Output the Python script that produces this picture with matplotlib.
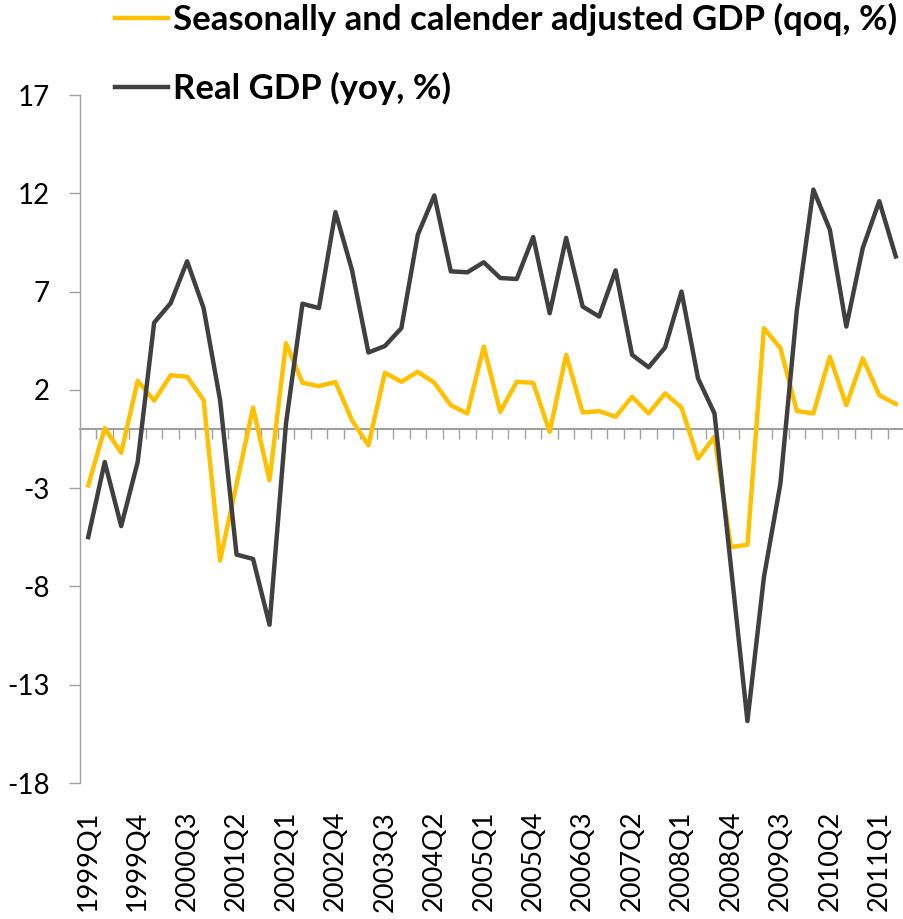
import numpy as np
import matplotlib
matplotlib.use("Agg")
import matplotlib.pyplot as plt

quarters = [f"{y}Q{q}" for y in range(1999, 2012) for q in range(1, 5)][:50]

gdp_qoq = [-2.86, 0.05, -1.2, 2.46, 1.45, 2.74, 2.67, 1.48, -6.68, -2.8,
           1.1, -2.6, 4.37, 2.36, 2.19, 2.4, 0.46, -0.82, 2.87, 2.41,
           2.92, 2.36, 1.22, 0.8, 4.2, 0.88, 2.41, 2.36, -0.14, 3.78,
           0.85, 0.92, 0.63, 1.65, 0.8, 1.82, 1.1, -1.5, -0.39, -6.0,
           -5.88, 5.14, 4.12, 0.92, 0.8, 3.69, 1.22, 3.6, 1.73, 1.28]

gdp_yoy = [-5.49, -1.67, -4.93, -1.67, 5.42, 6.41, 8.54, 6.16, 1.48, -6.38,
           -6.6, -9.95, 0.3, 6.38, 6.16, 11.04, 8.11, 3.9, 4.23, 5.14,
           9.9, 11.89, 8.03, 7.98, 8.49, 7.69, 7.64, 9.78, 5.9, 9.73,
           6.24, 5.73, 8.08, 3.78, 3.15, 4.15, 7.0, 2.59, 0.8, -7.0,
           -14.85, -7.53, -2.77, 6.07, 12.19, 10.15, 5.22, 9.22, 11.6, 8.79]

yticks = [17, 12, 7, 2, -3, -8, -13, -18]

font = "Lato"
grey = "#A0A0A0"
x = np.arange(len(quarters))

fig = plt.figure(figsize=(9.04, 9.19), dpi=100)
ax = fig.add_axes([80 / 904, 1 - 783 / 919, 824 / 904, (783 - 95) / 919])

ax.plot(x, gdp_qoq, color="#FFC000", lw=3.2, label="Seasonally and calender adjusted GDP (qoq, %)")
ax.plot(x, gdp_yoy, color="#404040", lw=3.2, label="Real GDP (yoy, %)")

ax.set_xlim(-0.5, len(quarters) - 0.5)
ax.set_ylim(-18, 17)
ax.set_yticks(yticks)
ax.set_yticklabels([str(v) for v in yticks], fontsize=20, family=font)
ax.tick_params(axis="y", length=8, width=1, color=grey, pad=14)

for s in ["top", "right", "bottom"]:
    ax.spines[s].set_visible(False)
ax.spines["left"].set_color(grey)
ax.spines["left"].set_linewidth(1)

# category labels along the bottom
ax.set_xticks(x[::3])
ax.set_xticklabels(quarters[::3], rotation=90, fontsize=19.5, family=font, va="top")
ax.tick_params(axis="x", length=0, pad=20)

# zero line with tick marks between categories
zero_ax = ax.secondary_xaxis(18 / 35)
zero_ax.set_alignment("bottom")
zero_ax.set_xticks(np.arange(len(quarters) + 1) - 0.5)
zero_ax.tick_params(axis="x", direction="out", length=7, width=1, color=grey,
                    labelbottom=False, labeltop=False)
zero_ax.spines["bottom"].set_color(grey)
zero_ax.spines["bottom"].set_linewidth(1.5)

fig.legend(loc="upper left", bbox_to_anchor=(115 / 904, 0.997), frameon=False,
           prop={"family": font, "weight": "bold", "size": 25},
           handlelength=1.53, handletextpad=0.15, labelspacing=1.05,
           borderpad=0, borderaxespad=0)

fig.savefig("out.png", dpi=100)
